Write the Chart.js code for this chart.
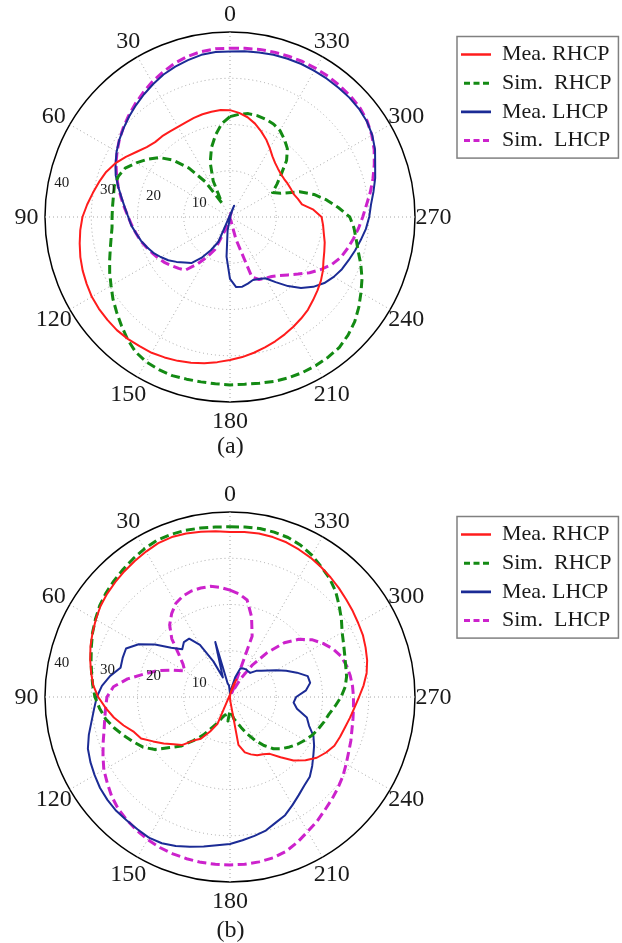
<!DOCTYPE html>
<html>
<head>
<meta charset="utf-8">
<script src="https://cdn.jsdelivr.net/npm/chart.js@4.4.1/dist/chart.umd.min.js"></script>
<style>
  html, body { margin: 0; padding: 0; background: #fff; overflow: hidden; }
  .plot { position: absolute; left: 0; width: 622px; }
  #wrapA { top: 0; height: 470px; }
  #wrapB { top: 470px; height: 473px; }
</style>
</head>
<body>
<div class="plot" id="wrapA"><canvas id="chartA"></canvas></div>
<div class="plot" id="wrapB"><canvas id="chartB"></canvas></div>
<script>
//angles of the cut in degrees, counter-clockwise from 0 at the top
const angleDeg = [0, 5, 10, 15, 20, 25, 30, 35, 40, 45, 50, 55,
  60, 65, 70, 75, 80, 85, 90, 95, 100, 105, 110, 115,
  120, 125, 130, 135, 140, 145, 150, 155, 160, 165, 170, 175,
  180, 185, 190, 195, 200, 205, 210, 215, 220, 225, 230, 235,
  240, 245, 250, 255, 260, 265, 270, 275, 280, 285, 290, 295,
  300, 305, 310, 315, 320, 325, 330, 335, 340, 345, 350, 355]
const angleTicks = [0, 30, 60, 90, 120, 150, 180, 210, 240, 270, 300, 330]
const radialTicks = [10, 20, 30, 40]
const seriesNames = ['Mea. RHCP', 'Sim.  RHCP', 'Mea. LHCP', 'Sim.  LHCP']

//plot (a)
const meaRhcpA = [23.1, 23.2, 23.1, 23.0, 22.8, 22.6, 22.5, 22.6, 22.8, 22.9, 23.5, 24.6,
  26.0, 27.4, 28.5, 29.3, 30.1, 31.0, 31.9, 32.5, 33.0, 33.5, 33.9, 34.2,
  34.5, 34.6, 34.6, 34.6, 34.4, 34.1, 33.9, 33.5, 33.1, 32.6, 32.1, 31.5,
  30.9, 30.4, 29.8, 29.2, 28.6, 28.0, 27.4, 26.8, 26.2, 25.4, 24.7, 24.0,
  23.2, 22.3, 21.7, 21.2, 20.6, 20.2, 19.8, 18.1, 15.8, 15.2, 14.6, 14.5,
  14.4, 14.3, 14.4, 14.7, 15.2, 16.0, 17.2, 18.5, 19.7, 20.9, 21.9, 22.6]
const simRhcpA = [21.7, 20.3, 18.0, 15.5, 12.5, 8.6, 3.5, 9.3, 13.8, 17.4, 20.0, 21.8,
  23.4, 25.0, 25.7, 25.9, 25.6, 25.5, 25.5, 25.6, 26.1, 26.8, 27.7, 28.7,
  29.7, 30.9, 32.0, 33.2, 34.5, 35.6, 36.2, 36.4, 36.5, 36.3, 36.2, 36.2,
  36.3, 36.3, 36.5, 36.8, 37.0, 37.1, 37.1, 37.0, 36.8, 36.1, 35.2, 34.0,
  32.7, 31.5, 30.1, 28.7, 27.7, 26.9, 25.9, 23.5, 21.2, 18.8, 16.0, 12.1,
  10.6, 12.4, 14.5, 17.3, 19.3, 20.5, 21.6, 22.2, 22.5, 22.7, 22.7, 22.3]
const meaLhcpA = [35.8, 35.8, 35.6, 35.1, 34.6, 34.0, 33.2, 32.4, 31.6, 30.8, 30.0, 29.2,
  28.3, 27.3, 26.3, 25.0, 23.8, 22.8, 22.0, 21.4, 20.6, 19.9, 19.1, 18.3,
  17.3, 16.3, 15.1, 13.9, 13.0, 10.8, 8.3, 5.9, -2.6, -0.5, 3.0, 8.6,
  13.4, 15.2, 15.3, 14.9, 14.5, 14.8, 15.3, 17.2, 19.5, 21.7, 23.5, 24.9,
  25.9, 26.7, 27.3, 28.0, 28.7, 29.5, 30.1, 30.6, 31.5, 32.5, 33.4, 34.6,
  35.5, 36.1, 36.4, 36.5, 36.5, 36.5, 36.5, 36.5, 36.4, 36.3, 36.1, 36.0]
const simLhcpA = [36.5, 36.5, 36.3, 35.9, 35.3, 34.5, 33.7, 32.8, 31.9, 31.0, 30.1, 29.2,
  28.2, 27.2, 26.1, 25.0, 23.9, 22.9, 22.0, 21.3, 20.6, 20.0, 19.2, 18.5,
  17.9, 17.2, 16.4, 15.7, 15.0, 12.5, 10.0, 7.8, 3.0, -0.8, -1.2, -0.6,
  -0.3, 0.0, 0.4, 5.0, 13.8, 14.9, 15.3, 15.7, 16.5, 17.7, 19.2, 21.0,
  22.7, 24.3, 25.5, 26.3, 27.1, 27.9, 28.7, 29.6, 30.8, 32.0, 33.2, 34.4,
  35.4, 36.2, 36.7, 36.9, 37.0, 37.1, 37.1, 37.1, 37.0, 36.9, 36.8, 36.6]

//plot (b)
const meaRhcpB = [35.7, 36.0, 36.3, 36.6, 36.8, 36.7, 36.3, 35.9, 35.5, 35.1, 34.7, 34.2,
  33.5, 32.8, 32.1, 31.3, 30.5, 29.7, 28.5, 27.0, 25.5, 23.8, 22.1, 21.2,
  19.2, 17.5, 15.9, 14.7, 12.3, 11.0, 8.6, 6.4, -4.0, -2.5, -1.2, -0.4,
  0.2, 1.0, 10.5, 12.4, 13.2, 13.9, 14.3, 15.0, 17.0, 19.4, 21.3, 22.9,
  24.0, 24.9, 25.3, 25.7, 26.3, 27.0, 27.9, 29.0, 30.0, 30.7, 31.2, 31.7,
  32.0, 32.4, 32.8, 33.3, 33.8, 34.3, 34.8, 35.2, 35.6, 35.8, 35.9, 35.8]
const simRhcpB = [36.8, 36.9, 37.1, 37.3, 37.4, 37.4, 37.0, 36.5, 36.0, 35.5, 35.0, 34.4,
  33.6, 32.8, 31.9, 31.1, 30.4, 29.8, 29.2, 28.3, 27.3, 25.9, 24.4, 23.0,
  21.7, 19.8, 17.0, 15.0, 12.3, 10.0, 7.5, 6.0, 4.6, 4.0, 4.6, 5.2,
  3.0, 3.5, 4.8, 5.6, 7.0, 8.8, 10.8, 12.8, 14.6, 15.8, 16.8, 17.8,
  18.7, 19.6, 20.3, 21.0, 21.7, 22.8, 24.0, 25.0, 25.6, 25.9, 26.4, 27.1,
  28.0, 29.4, 30.8, 32.3, 33.5, 34.4, 35.4, 36.2, 36.7, 36.9, 37.0, 36.9]
const meaLhcpB = [0.8, 2.5, 3.0, 12.3, 4.5, 8.5, 13.0, 15.4, 15.5, 14.6, 16.6, 19.8,
  22.8, 24.8, 24.7, 24.5, 26.3, 27.8, 28.8, 29.5, 30.4, 31.6, 32.7, 33.3,
  33.8, 34.3, 34.6, 34.8, 34.8, 34.9, 35.1, 34.9, 34.3, 33.5, 32.8, 32.2,
  31.8, 31.1, 30.5, 29.9, 28.9, 28.2, 27.0, 25.9, 25.0, 24.4, 23.2, 22.0,
  21.0, 19.9, 18.2, 17.2, 14.7, 13.8, 14.3, 16.5, 17.6, 17.4, 15.4, 13.4,
  11.6, 10.0, 8.8, 8.0, 6.8, 6.8, 6.9, 6.8, 6.6, 4.5, 2.0, 1.0]
const simLhcpB = [23.1, 23.8, 24.3, 24.4, 24.4, 24.1, 23.4, 22.0, 20.3, 17.8, 14.5, 12.4,
  11.3, 13.8, 16.7, 19.2, 22.5, 25.3, 26.6, 27.0, 27.5, 28.2, 29.2, 30.3,
  31.5, 32.4, 33.4, 34.2, 34.7, 35.2, 35.6, 35.9, 36.1, 36.2, 36.3, 36.3,
  36.3, 36.3, 36.2, 36.0, 35.5, 34.6, 33.6, 32.8, 31.9, 31.2, 30.5, 29.8,
  29.0, 28.3, 27.8, 27.3, 27.0, 26.8, 26.7, 26.6, 26.4, 26.1, 25.6, 24.6,
  23.2, 21.6, 19.4, 16.6, 12.5, 8.5, 4.5, 1.0, 14.0, 18.0, 21.3, 22.4]

const serif = "'Liberation Serif', serif"
Chart.defaults.font.family = serif
Chart.defaults.color = '#1a1a1a'

const lineColors = ['#ff1c1c', '#138a13', '#1b2b95', '#cc22cc']
const lineDashes = [[], [9, 4.5], [], [9, 4.5]]
const lineWidths = [2, 3, 2, 3]

const legendSize = 22
const legendPad = 6.7
const sampleW = 30
const step = 360 / angleDeg.length

//radar runs clockwise, the figure runs counter-clockwise
ccw = function(arr) {
    return arr.map((v, i) => arr[(arr.length - i) % arr.length])
}

//measure the widest legend text so the legend starts at x = 461
const mctx = document.createElement('canvas').getContext('2d')
mctx.font = legendSize + 'px ' + serif
const widest = Math.max(...seriesNames.map(t => mctx.measureText(t).width))
const padRight = 151 - (sampleW + legendSize / 2 + widest)

//angle labels, radial labels and the legend frame
const polarText = {
    id: 'polarText',
    afterDraw(chart) {
        const s = chart.scales.r
        const ctx = chart.ctx
        const R = s.getDistanceFromCenterForValue(40)
        ctx.save()
        ctx.fillStyle = '#1a1a1a'
        ctx.font = '24px ' + serif
        ctx.textAlign = 'center'
        ctx.textBaseline = 'middle'
        angleTicks.forEach(a => {
            const p = s.getPointPosition(((360 - a) % 360) / step, R * 1.1)
            ctx.fillText(String(a), p.x, p.y + 1)
        })
        ctx.font = '15px ' + serif
        ctx.textAlign = 'left'
        radialTicks.forEach(v => {
            const p = s.getPointPosition((360 - 82) / step, s.getDistanceFromCenterForValue(v))
            ctx.fillText(String(v), p.x + 7.5, p.y - 8)
        })
        const hb = chart.legend.legendHitBoxes
        const x0 = Math.min(...hb.map(b => b.left)) - 4
        const y0 = Math.min(...hb.map(b => b.top)) - 7
        const x1 = Math.max(...hb.map(b => b.left + b.width)) + 7
        const y1 = Math.max(...hb.map(b => b.top + b.height)) + 6.5
        ctx.strokeStyle = '#808080'
        ctx.lineWidth = 1.5
        ctx.strokeRect(x0, y0, x1 - x0, y1 - y0)
        ctx.restore()
    }
}

makePolar = function(id, caption, series, padTop, capPad) {
    const datasets = series.map((arr, i) => ({
        label: seriesNames[i],
        data: ccw(arr),
        borderColor: lineColors[i],
        backgroundColor: lineColors[i],
        borderWidth: lineWidths[i],
        borderDash: lineDashes[i],
        borderJoinStyle: 'round',
        pointRadius: 0,
        fill: false,
        tension: 0
    }))
    return new Chart(document.getElementById(id), {
        type: 'radar',
        data: { labels: ccw(angleDeg), datasets: datasets },
        options: {
            responsive: true,
            maintainAspectRatio: false,
            animation: false,
            layout: { padding: { left: 6.5, right: padRight, top: padTop, bottom: 0 } },
            scales: {
                r: {
                    min: 0,
                    max: 40,
                    ticks: { display: false, stepSize: 10 },
                    pointLabels: { display: false },
                    grid: {
                        circular: true,
                        color: c => c.tick.value === 40 ? '#000000' : '#a6a6a6',
                        lineWidth: c => c.tick.value === 40 ? 1.5 : 1
                    },
                    border: { dash: c => c.tick.value === 40 ? [] : [1, 3] },
                    angleLines: {
                        color: c => (c.index * step) % 30 === 0 ? '#a6a6a6' : 'transparent',
                        lineWidth: 1,
                        borderDash: [1, 3]
                    }
                }
            },
            plugins: {
                legend: {
                    position: 'right',
                    align: 'start',
                    title: { display: true, text: '', font: { size: 4 }, padding: 0 },
                    labels: {
                        font: { size: legendSize },
                        padding: legendPad,
                        usePointStyle: true,
                        pointStyleWidth: sampleW,
                        //shorter dashes and a thicker stroke in the key, like the figure
                        generateLabels: chart => chart.data.datasets.map((ds, i) => ({
                            text: ds.label,
                            strokeStyle: ds.borderColor,
                            fillStyle: ds.borderColor,
                            lineWidth: ds.borderDash.length ? 3 : 2.6,
                            lineDash: ds.borderDash.length ? [6, 3.5] : [],
                            lineDashOffset: ds.borderDash.length ? 6.5 : 0,
                            pointStyle: 'line',
                            fontColor: '#1a1a1a',
                            hidden: false,
                            datasetIndex: i
                        }))
                    }
                },
                title: {
                    display: true,
                    text: caption,
                    position: 'bottom',
                    fullSize: false,
                    color: '#1a1a1a',
                    font: { size: 24, weight: 'normal', lineHeight: 1 },
                    padding: capPad
                },
                tooltip: { enabled: false }
            }
        },
        plugins: [polarText]
    })
}

const chartA = makePolar('chartA', '(a)', [meaRhcpA, simRhcpA, meaLhcpA, simLhcpA], 32, { top: 33, bottom: 11 })
const chartB = makePolar('chartB', '(b)', [meaRhcpB, simRhcpB, meaLhcpB, simLhcpB], 42, { top: 37, bottom: 0 })
</script>
</body>
</html>
